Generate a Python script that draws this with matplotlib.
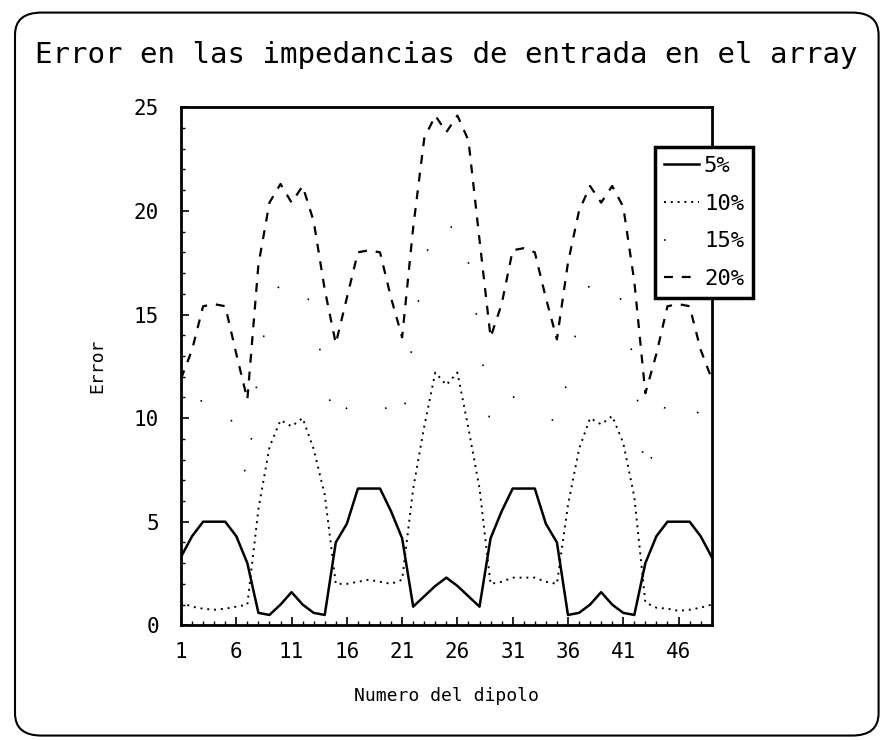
import numpy as np
import matplotlib
matplotlib.use('Agg')
import matplotlib.pyplot as plt
from matplotlib.patches import FancyBboxPatch
from matplotlib.ticker import MultipleLocator

# Dipole index
dipolo = np.arange(1, 50)

# Error values, one list per perturbation level
err_5 = [3.3, 4.3, 5.0, 5.0, 5.0, 4.3, 3.0, 0.6, 0.5, 1.0, 1.6, 1.0, 0.6, 0.5, 4.0, 4.9, 6.6,
         6.6, 6.6, 5.5, 4.2, 0.9, 1.4, 1.9, 2.3, 1.9, 1.4, 0.9, 4.2, 5.5, 6.6, 6.6, 6.6, 4.9,
         4.0, 0.5, 0.6, 1.0, 1.6, 1.0, 0.6, 0.5, 3.0, 4.3, 5.0, 5.0, 5.0, 4.3, 3.3]
err_10 = [1.1, 0.9, 0.8, 0.75, 0.8, 0.9, 1.0, 5.6, 8.6, 9.9, 9.6, 10.0, 8.5, 6.3, 2.0, 2.0, 2.1,
          2.2, 2.1, 2.0, 2.2, 6.6, 9.6, 12.2, 11.6, 12.2, 9.5, 6.6, 2.0, 2.1, 2.3, 2.3, 2.3, 2.1,
          2.0, 5.8, 8.5, 10.0, 9.7, 10.1, 8.8, 6.2, 1.1, 0.85, 0.8, 0.7, 0.75, 0.85, 1.0]
err_15 = [8.5, 10.0, 11.0, 11.2, 11.0, 9.0, 7.0, 12.5, 15.5, 16.5, 16.0, 16.5, 15.0, 12.0, 9.5,
          10.5, 11.0, 11.2, 11.0, 10.0, 9.5, 14.0, 17.5, 19.5, 19.0, 19.5, 17.5, 14.0, 9.5, 10.0,
          11.0, 11.2, 11.0, 10.5, 9.5, 12.0, 15.0, 16.5, 16.0, 16.5, 15.5, 12.5, 7.0, 9.0, 11.0,
          11.2, 11.0, 10.0, 8.5]
err_20 = [11.9, 13.3, 15.4, 15.5, 15.4, 13.1, 10.9, 17.4, 20.4, 21.3, 20.4, 21.2, 19.5, 16.2,
          13.6, 15.8, 18.0, 18.1, 18.0, 15.8, 13.9, 19.2, 23.5, 24.6, 23.8, 24.6, 23.4, 18.6,
          13.9, 15.5, 18.1, 18.2, 18.0, 15.8, 13.8, 17.5, 20.0, 21.2, 20.4, 21.2, 20.2, 16.6,
          11.2, 13.1, 15.4, 15.5, 15.4, 13.3, 11.9]

x_ticks = [1, 6, 11, 16, 21, 26, 31, 36, 41, 46]
y_ticks = [0, 5, 10, 15, 20, 25]

plt.rcParams['font.family'] = ['DejaVu Sans Mono']

fig = plt.figure(figsize=(8.83, 7.40), dpi=100)
ax = fig.add_axes([0.205, 0.155, 0.601, 0.700])

# Rounded border around the whole picture
fig.patches.append(FancyBboxPatch((0.017, 0.006), 0.978, 0.977,
                                  boxstyle='round,pad=0,rounding_size=0.03',
                                  transform=fig.transFigure, fill=False,
                                  edgecolor='black', linewidth=1.5))

fig.text(0.04, 0.926, 'Error en las impedancias de entrada en el array',
         fontsize=21, ha='left', va='center')

ax.plot(dipolo, err_5, color='black', linestyle='-', linewidth=1.8, label='5%')
ax.plot(dipolo, err_10, color='black', linestyle=(0, (1, 2.5)), linewidth=1.4, label='10%')
ax.plot(dipolo, err_15, color='black', linestyle=(0, (1, 30)), linewidth=1.2, label='15%')
ax.plot(dipolo, err_20, color='black', linestyle=(0, (4, 4)), linewidth=1.6, label='20%')

ax.set_xlim(1, 49)
ax.set_ylim(0, 25)
ax.set_xticks(x_ticks)
ax.set_yticks(y_ticks)
ax.xaxis.set_minor_locator(MultipleLocator(1))
ax.yaxis.set_minor_locator(MultipleLocator(1))
ax.tick_params(which='both', direction='in', top=False, right=False)
ax.tick_params(axis='x', which='major', length=6, width=1.2, labelsize=15, pad=12)
ax.tick_params(axis='y', which='major', length=6, width=1.2, labelsize=15, pad=16)
ax.tick_params(which='minor', length=3, width=1.0)
for s in ax.spines.values():
    s.set_linewidth(2)

ax.set_xlabel('Numero del dipolo', fontsize=13, labelpad=18)
ax.set_ylabel('Error', fontsize=13, labelpad=20)

leg = ax.legend(loc='upper left', bbox_to_anchor=(655 / 883, 1 - 147 / 740),
                bbox_transform=fig.transFigure, borderaxespad=0, fontsize=16,
                fancybox=False, handlelength=1.6, handletextpad=0.2,
                labelspacing=0.8, borderpad=0.4)
leg.get_frame().set_edgecolor('black')
leg.get_frame().set_linewidth(2.5)
leg.get_frame().set_alpha(1)

fig.savefig('out.png', dpi=100)
